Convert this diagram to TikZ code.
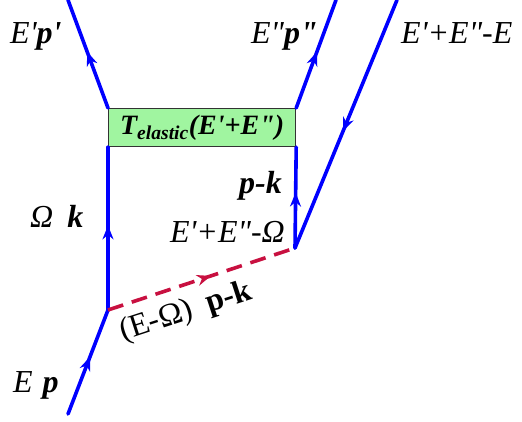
\documentclass[tikz,border=0pt]{standalone}
\usepackage{fontspec}
\setmainfont{Liberation Serif}[Ligatures=TeXOff]
\usetikzlibrary{decorations.markings,arrows.meta}
\definecolor{lineblue}{RGB}{0,0,255}
\definecolor{dashred}{RGB}{200,16,64}
\definecolor{boxgreen}{RGB}{160,245,160}
\newcommand\bvec[1]{{\bfseries\itshape #1}}
\tikzset{
  fline/.style={color=lineblue, line width=3.6pt, line cap=round, postaction={decorate},
    decoration={markings, mark=at position #1 with {\arrow{Stealth[length=14pt,width=11pt]}}}},
  fline/.default=0.55,
  dline/.style={color=dashred, line width=3.6pt, dash pattern=on 16pt off 9pt, postaction={decorate},
    decoration={markings, mark=at position #1 with {\arrow{Stealth[length=14pt,width=11pt]}}}},
  dline/.default=0.55,
  lab/.style={font=\fontsize{32}{36}\selectfont, inner sep=0pt},
  boxlab/.style={draw=black!80, fill=boxgreen, line width=1.2pt, inner sep=0pt,
    minimum width=187pt, minimum height=38pt, font=\fontsize{28}{32}\selectfont\bfseries\itshape},
}
\begin{document}
\begin{tikzpicture}[x=1pt,y=-1pt]
\useasboundingbox (0,0) rectangle (522,421);
\node[boxlab, anchor=north west] (T) at (108,108) {T\textsubscript{elastic}(E'+E")};
\coordinate (P0) at (68,414);
\coordinate (A) at (108,310);
\coordinate (B) at (295,248);
\coordinate (O1) at (68,0);
\coordinate (O2) at (336,0);
\coordinate (O3) at (397,0);
\draw[fline] (P0) -- (A);
\draw[fline=0.52] (A) -- (T.south west);
\draw[fline=0.52] (T.north west) -- (O1);
\draw[fline=0.52] (T.north east) -- (O2);
\draw[fline=0.55] (B) -- (T.south east);
\draw[fline=0.53] (O3) -- (B);
\draw[dline] (A) -- (B);
\node[lab, anchor=base west] (l1) at (10,43) {\itshape E'\bvec{p'}};
\node[lab, anchor=base east] (l2) at (318,43) {\itshape E"\bvec{p"}};
\node[lab, anchor=base west] (l3) at (401,43) {\itshape E'+E"-E};
\node[lab, anchor=base east] (l4) at (282,193) {\bvec{p-k}};
\node[lab, anchor=base east] (l5) at (285,242) {\itshape E'+E"-Ω};
\node[lab, anchor=base west] (l6) at (30,227) {\itshape Ω\hspace{14pt}\bvec{k}};
\node[lab, anchor=base west] (l7) at (13,392) {\itshape E\hspace{10pt}\bvec{p}};
\node[lab, anchor=base west, rotate=18] (l8) at (123,341) {(E-Ω)};
\node[lab, anchor=base west, rotate=18] (l9) at (209,313) {\textbf{p-k}};
\end{tikzpicture}
\end{document}
